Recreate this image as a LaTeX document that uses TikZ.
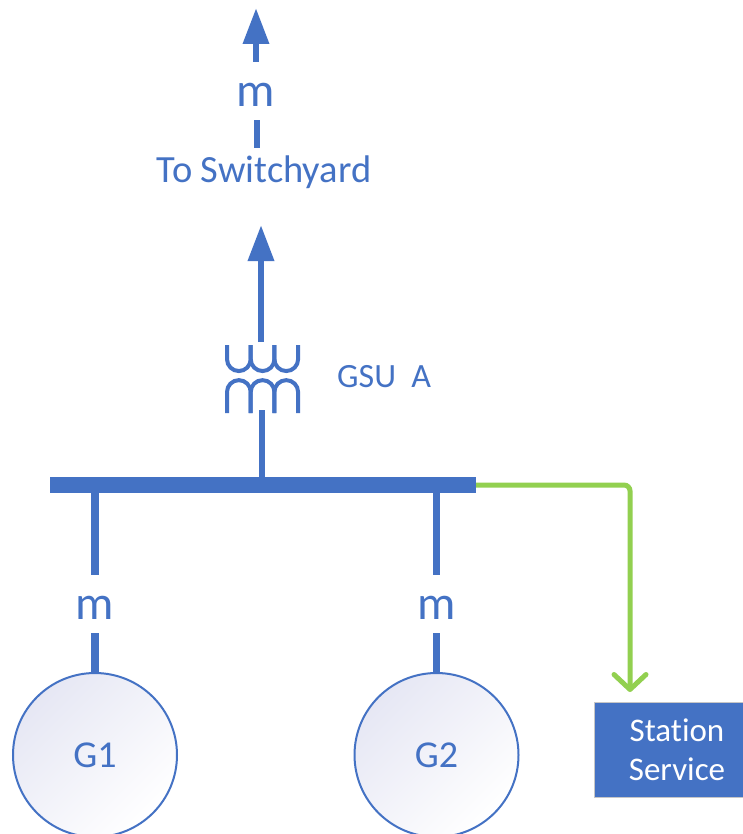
\documentclass[tikz,border=0pt]{standalone}
\usepackage{fontspec}
\setmainfont{Carlito}[Ligatures=CommonOff]
\usetikzlibrary{arrows.meta}
\definecolor{eblue}{HTML}{4472C4}
\definecolor{egreen}{HTML}{92D050}
\definecolor{eshade}{HTML}{E6E7F4}
\begin{document}
\begin{tikzpicture}[x=1pt,y=-1pt,
  mlab/.style={text=eblue,font=\fontsize{48}{48}\selectfont,inner sep=0pt},
  lab/.style={text=eblue,inner sep=0pt},
  gen/.style={circle,draw=eblue,line width=2pt,minimum size=164pt,inner sep=0pt,
    top color=eshade,bottom color=white,shading angle=45,text=eblue,
    font=\fontsize{38}{38}\selectfont},
  feeder/.style={draw=eblue,line width=7.5pt},
  uparrow/.style={draw=eblue,line width=6.5pt,-{Triangle[length=36pt,width=25pt]}},
  winding/.style={draw=eblue,line width=4pt},
  service/.style={draw=egreen,line width=5pt,rounded corners=6pt,
    -{Straight Barb[length=15pt,width=32pt,round]}},
  ]
\useasboundingbox (0,0) rectangle (743,834);

% top part: to switchyard
\coordinate (t1) at (256,62);
\coordinate (t1tip) at (256,8);
\draw[uparrow] (t1) -- (t1tip);
\node[mlab] (mtop) at (256,95) {m};
\node[lab,font=\fontsize{38.5}{38.5}\selectfont,anchor=base] (sw) at (264,183) {To Switchyard};
\coordinate (s1) at (257,148);
\coordinate (s2) at (257,120);
\draw[draw=eblue,line width=6pt] (s1) -- (s2);

% transformer GSU A
\coordinate (xft) at (261,342);
\coordinate (t2tip) at (261,225);
\draw[uparrow] (xft) -- (t2tip);
\foreach \x in {227,250.7,274.4}{
  \draw[winding] (\x,345) -- (\x,359.2) arc[start angle=180,end angle=360,radius=11.85pt] -- (\x+23.7,345);
  \draw[winding] (\x,413) -- (\x,392) arc[start angle=180,end angle=0,radius=11.85pt] -- (\x+23.7,413);
}
\node[lab,font=\fontsize{34}{34}\selectfont,anchor=base west] (gsu) at (337,387) {GSU\ \ A};

% bus
\node[fill=eblue,minimum width=426pt,minimum height=16pt,inner sep=0pt] (bus) at (263,485) {};
\coordinate (xfb) at (262,410);
\draw[draw=eblue,line width=6pt] (bus.north -| xfb) -- (xfb);

% generators
\node[gen] (G1) at (95,755) {G1};
\node[gen] (G2) at (436.5,755) {G2};
\node[mlab] (m1) at (95,608) {m};
\node[mlab] (m2) at (436.5,608) {m};
\coordinate (m1a) at (95,575);
\coordinate (m1b) at (95,633);
\coordinate (m2a) at (436.5,575);
\coordinate (m2b) at (436.5,633);
\draw[feeder] (bus.south -| m1a) -- (m1a);
\draw[feeder] (m1b) -- (G1.north);
\draw[feeder] (bus.south -| m2a) -- (m2a);
\draw[feeder] (m2b) -- (G2.north);

% station service
\node[draw=gray!45,line width=1pt,fill=eblue,text=white,minimum width=166pt,
  minimum height=95pt,inner sep=0pt,align=center,
  font=\fontsize{33}{39}\selectfont] (ss) at (677,749.5) {Station\\Service};
\coordinate (ssin) at (630,692);
\draw[service] (bus.east) -| (ssin);
\end{tikzpicture}
\end{document}
